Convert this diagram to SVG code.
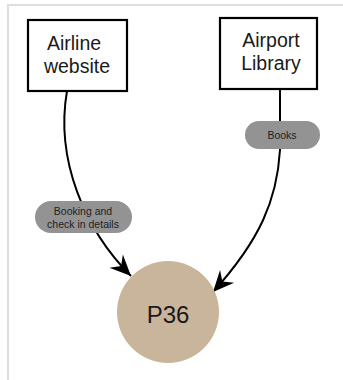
<svg xmlns="http://www.w3.org/2000/svg" width="343" height="380" viewBox="0 0 343 380">
  <style>
    .box { fill: #ffffff; stroke: #000000; stroke-width: 2.2; }
    .box-label { font-family: "Liberation Sans", Arial, sans-serif; font-size: 19.5px; fill: #1a1a1a; text-anchor: middle; }
    .pill { fill: #939393; }
    .pill-label { font-family: "Liberation Sans", Arial, sans-serif; font-size: 10.5px; fill: #222222; text-anchor: middle; }
    .edge { fill: none; stroke: #000000; stroke-width: 2; }
    .hub { fill: #c9b59c; }
    .hub-label { font-family: "Liberation Sans", Arial, sans-serif; font-size: 24px; fill: #1a1a1a; text-anchor: middle; }
    .frame { fill: none; stroke: #dedede; stroke-width: 2; }
  </style>
  <defs>
    <marker id="arrow" markerUnits="userSpaceOnUse" markerWidth="24" markerHeight="24" viewBox="-22 -11 24 22" refX="0" refY="0" orient="auto">
      <path d="M0,0 L-21,-9.5 L-14,0 L-21,9.5 Z" fill="#000000"/>
    </marker>
  </defs>

  <rect width="343" height="380" fill="#ffffff"/>
  <!-- page frame -->
  <path class="frame" d="M8,380 V5 H343"/>

  <!-- connectors -->
  <g id="connectors">
    <path class="edge" d="M67,91 C55,160 85,230 131,276" marker-end="url(#arrow)"/>
    <path class="edge" d="M280,89 L280,150 C277,200 260,240 213,292" marker-end="url(#arrow)"/>
  </g>

  <!-- edge labels -->
  <g id="label-booking">
    <rect class="pill" x="35" y="201" width="97" height="32" rx="16"/>
    <text class="pill-label" x="83" y="214.5">Booking and</text>
    <text class="pill-label" x="83" y="227.5">check in details</text>
  </g>
  <g id="label-books">
    <rect class="pill" x="245" y="121" width="75" height="28" rx="14"/>
    <text class="pill-label" x="282" y="138.5">Books</text>
  </g>

  <!-- source nodes -->
  <g id="airline-website">
    <rect class="box" x="28" y="20" width="99" height="71"/>
    <text class="box-label" x="74" y="50">Airline</text>
    <text class="box-label" x="77" y="73">website</text>
  </g>
  <g id="airport-library">
    <rect class="box" x="220" y="18" width="97" height="71"/>
    <text class="box-label" x="271" y="47">Airport</text>
    <text class="box-label" x="271" y="70">Library</text>
  </g>

  <!-- destination node -->
  <g id="p36">
    <circle class="hub" cx="168" cy="312" r="51"/>
    <text class="hub-label" x="168" y="323">P36</text>
  </g>
</svg>
